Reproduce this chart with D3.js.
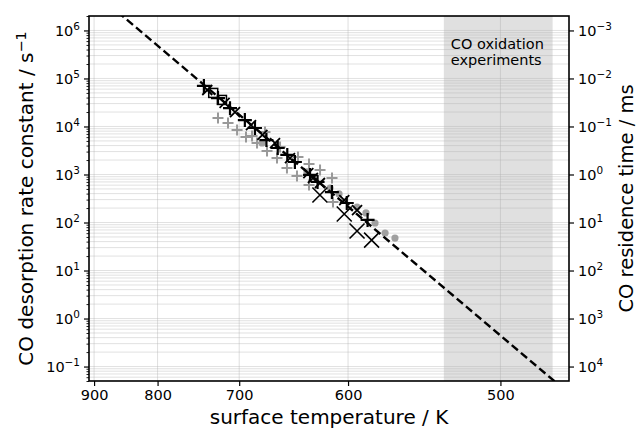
<!DOCTYPE html>
<html>
<head>
<meta charset="utf-8">
<script src="https://cdn.jsdelivr.net/npm/d3@7"></script>
<style>
  body { margin: 0; background: #fff; }
  text { font-family: "DejaVu Sans", sans-serif; fill: #000; }
</style>
</head>
<body>
<svg id="chart" width="639" height="429"></svg>
<script>
// ---- data -------------------------------------------------------------
// axis ticks
const tempTicks = [900, 800, 700, 600, 500];                 // K
const rateTicks = [1e-1, 1e0, 1e1, 1e2, 1e3, 1e4, 1e5, 1e6]; // s^-1
const residenceTicks = [1e-3, 1e-2, 1e-1, 1e0, 1e1, 1e2, 1e3, 1e4]; // ms

// temperature window of the CO oxidation experiments (K)
const oxidationWindow = [533, 473];

// Arrhenius fit, end points [T (K), k (s^-1)]
const arrheniusFit = [[860, 2.43e6], [470, 0.0416]];

// measured desorption rate constants [T (K), k (s^-1)]
const plusBlack = [
  [740, 7.0e4], [723.5, 3.9e4], [710, 2.4e4], [694, 1.36e4], [683.5, 9.3e3],
  [672, 5.2e3], [661, 3.56e3], [652, 2.55e3], [645, 1.82e3], [631.5, 980],
  [625, 700], [613, 430], [601, 255], [585, 113]
];
const crossSmall = [
  [736, 5.75e4], [716, 3.1e4], [704.5, 2.0e4], [687.6, 1.07e4], [676, 6.65e3],
  [663.6, 4.5e3], [649.5, 2.2e3], [633, 1.07e3], [629, 845], [623, 665],
  [603, 294], [593, 182]
];
const squareOpen = [[729, 5.0e4], [719, 3.57e4]];
const crossLarge = [[623, 374], [603, 150], [593, 66.5], [582, 43]];
const plusGray = [
  [723.5, 1.5e4], [712.2, 1.18e4], [702.3, 8.45e3], [692.8, 6.04e3], [686.5, 6.34e3],
  [681.4, 4.53e3], [673.4, 7.68e3], [671.4, 3.09e3], [661.7, 2.21e3], [658.8, 3.74e3],
  [652.3, 1.37e3], [643.1, 931], [642.2, 2.32e3], [632.4, 1.66e3], [632.4, 604],
  [622.9, 1.24e3], [612.9, 845], [612.1, 267]
];
const dotGray = [
  [676.4, 4.53e3], [634.2, 1.13e3], [614.5, 523], [607.2, 393], [593, 210],
  [586.2, 158], [579.5, 97.7], [572.2, 60.4], [565.2, 47.5]
];

// ---- layout -----------------------------------------------------------
const svg = d3.select("#chart");
const L = 89, R = 569, T0 = 16, B = 381;

// x is linear in 1000/T, labelled in T
const xInv = d3.scaleLinear().domain([1.1, 2.15]).range([L, R]);
const x = t => xInv(1000 / t);
const y = d3.scaleLog().domain([0.05, 2e6]).range([B, T0]);
const yRight = d3.scaleLog().domain([1000 / 0.05, 1000 / 2e6]).range([B, T0]);

svg.append("defs").append("clipPath").attr("id", "plotClip")
  .append("rect").attr("x", L).attr("y", T0).attr("width", R - L).attr("height", B - T0);

const plot = svg.append("g").attr("clip-path", "url(#plotClip)");

// shaded experiment window
plot.append("rect")
  .attr("x", x(oxidationWindow[0]))
  .attr("y", T0)
  .attr("width", x(oxidationWindow[1]) - x(oxidationWindow[0]))
  .attr("height", B - T0)
  .attr("fill", "#e0e0e0");

// grid: horizontal at every major and minor decade step, vertical at T ticks
const minorRates = [];
for (let e = -2; e <= 6; e++) for (let m = 1; m <= 9; m++) {
  const v = m * Math.pow(10, e);
  if (v >= 0.05 && v <= 2e6) minorRates.push(v);
}
plot.append("g").selectAll("line").data(minorRates).join("line")
  .attr("x1", L).attr("x2", R)
  .attr("y1", d => y(d)).attr("y2", d => y(d))
  .attr("stroke", "#b0b0b0").attr("stroke-opacity", 0.38).attr("stroke-width", 1);
plot.append("g").selectAll("line").data(tempTicks).join("line")
  .attr("x1", d => x(d)).attr("x2", d => x(d))
  .attr("y1", T0).attr("y2", B)
  .attr("stroke", "#b0b0b0").attr("stroke-opacity", 0.4).attr("stroke-width", 1);

// marker shapes
const plusPath = s => `M${-s},0H${s}M0,${-s}V${s}`;
const crossPath = s => `M${-s},${-s}L${s},${s}M${-s},${s}L${s},${-s}`;
const pos = d => `translate(${x(d[0])},${y(d[1])})`;

plot.append("g").selectAll("path").data(plusGray).join("path")
  .attr("transform", pos).attr("d", plusPath(5.5))
  .attr("stroke", "#999").attr("stroke-width", 2).attr("fill", "none");

plot.append("g").selectAll("circle").data(dotGray).join("circle")
  .attr("cx", d => x(d[0])).attr("cy", d => y(d[1])).attr("r", 3.6)
  .attr("fill", "#a0a0a0");

plot.append("g").selectAll("rect").data(squareOpen).join("rect")
  .attr("x", d => x(d[0]) - 4.5).attr("y", d => y(d[1]) - 4.5)
  .attr("width", 9).attr("height", 9)
  .attr("stroke", "#000").attr("stroke-width", 1.5).attr("fill", "none");

plot.append("g").selectAll("path").data(crossSmall).join("path")
  .attr("transform", pos).attr("d", crossPath(5))
  .attr("stroke", "#000").attr("stroke-width", 1.8).attr("fill", "none");

plot.append("g").selectAll("path").data(plusBlack).join("path")
  .attr("transform", pos).attr("d", plusPath(7))
  .attr("stroke", "#000").attr("stroke-width", 2.2).attr("fill", "none");

plot.append("g").selectAll("path").data(crossLarge).join("path")
  .attr("transform", pos).attr("d", crossPath(7.5))
  .attr("stroke", "#000").attr("stroke-width", 1.6).attr("fill", "none");

// Arrhenius fit line
plot.append("path")
  .attr("d", d3.line().x(d => x(d[0])).y(d => y(d[1]))(arrheniusFit))
  .attr("fill", "none").attr("stroke", "#000").attr("stroke-width", 2.4)
  .attr("stroke-dasharray", "8,4");

// annotation in the shaded window
const ann = svg.append("text").attr("x", x(oxidationWindow[0]) + 7).attr("font-size", 14.5);
ann.append("tspan").attr("x", x(oxidationWindow[0]) + 7).attr("y", 48.5).text("CO oxidation");
ann.append("tspan").attr("x", x(oxidationWindow[0]) + 7).attr("y", 64.5).text("experiments");

// ---- axes -------------------------------------------------------------
const sup = e => (e < 0 ? "\u2212" : "") + Math.abs(e);
function powLabels(g) {
  g.selectAll(".tick text").each(function (d) {
    const t = d3.select(this);
    const e = Math.round(Math.log10(d));
    t.text(null);
    t.append("tspan").text("10");
    t.append("tspan").attr("dy", "-0.5em").attr("font-size", "0.72em").text(sup(e));
  });
}
function styleAxis(g) {
  g.select(".domain").remove();
  g.selectAll(".tick line").attr("stroke", "#000").attr("stroke-width", 1.2);
  g.selectAll(".tick text").attr("font-family", "DejaVu Sans").attr("font-size", 14.5).attr("fill", "#000");
}

// bottom: temperature
svg.append("g").attr("transform", `translate(0,${B})`)
  .call(d3.axisBottom(xInv).tickValues(tempTicks.map(t => 1000 / t))
    .tickFormat(u => Math.round(1000 / u)).tickSize(5).tickPadding(4))
  .call(styleAxis);

// left: rate constant, minor ticks first
const minorOnly = minorRates.filter(v => !rateTicks.some(r => Math.abs(r - v) / r < 1e-9));
svg.append("g").attr("transform", `translate(${L},0)`)
  .call(d3.axisLeft(y).tickValues(minorOnly).tickFormat("").tickSize(2.5))
  .call(g => { g.select(".domain").remove(); g.selectAll(".tick line").attr("stroke", "#000").attr("stroke-width", 0.9); });
svg.append("g").attr("transform", `translate(${L},0)`)
  .call(d3.axisLeft(y).tickValues(rateTicks).tickSize(5).tickPadding(4))
  .call(styleAxis).call(powLabels);

// right: residence time
svg.append("g").attr("transform", `translate(${R},0)`)
  .call(d3.axisRight(yRight).tickValues(residenceTicks).tickSize(5).tickPadding(4))
  .call(styleAxis).call(powLabels);

// frame
svg.append("rect").attr("x", L).attr("y", T0).attr("width", R - L).attr("height", B - T0)
  .attr("fill", "none").attr("stroke", "#000").attr("stroke-width", 1.6);

// titles
svg.append("text").attr("x", (L + R) / 2).attr("y", 424).attr("text-anchor", "middle")
  .attr("font-size", 20).text("surface temperature / K");

const lt = svg.append("text").attr("transform", `translate(33,${(T0 + B) / 2}) rotate(-90)`)
  .attr("text-anchor", "middle").attr("font-size", 20);
lt.append("tspan").text("CO desorption rate constant / s");
lt.append("tspan").attr("dy", "-0.5em").attr("font-size", "0.72em").text("\u22121");

svg.append("text").attr("transform", `translate(633,${(T0 + B) / 2}) rotate(-90)`)
  .attr("text-anchor", "middle").attr("font-size", 19.5).text("CO residence time / ms");
</script>
</body>
</html>
